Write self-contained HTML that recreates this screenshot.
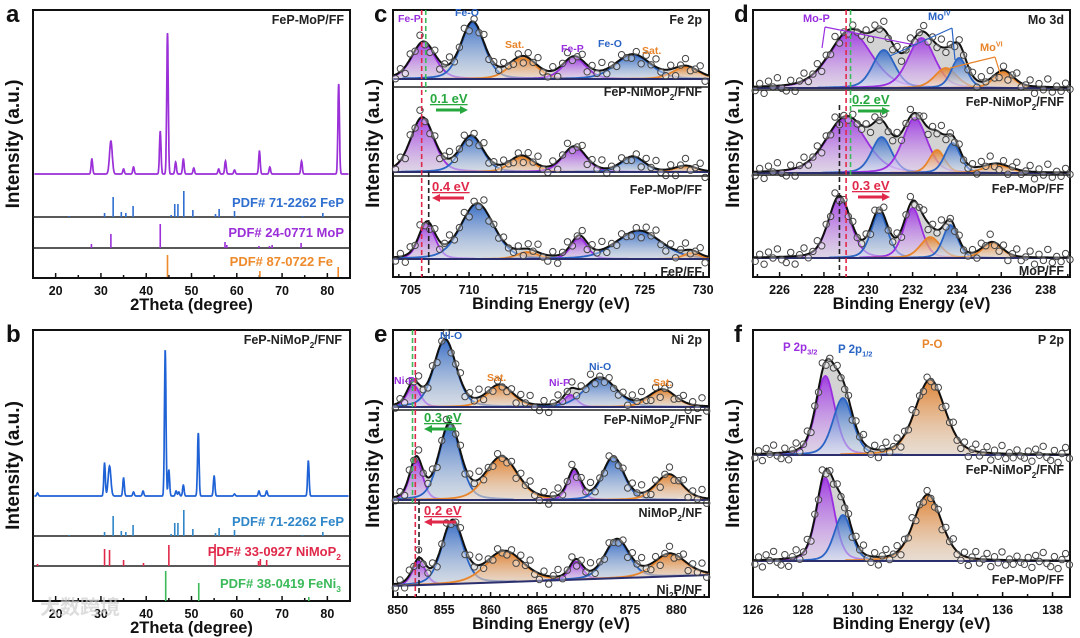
<!DOCTYPE html>
<html><head><meta charset="utf-8"><title>XRD and XPS figure</title>
<style>
html,body{margin:0;padding:0;background:#fff;}
svg{display:block;font-family:"Liberation Sans","Noto Sans CJK SC",sans-serif;font-weight:bold;}
</style></head>
<body>
<svg id="fig" width="1080" height="638" viewBox="0 0 1080 638" xmlns="http://www.w3.org/2000/svg">
<defs>
<linearGradient id="gp" x1="0" y1="0" x2="0" y2="1"><stop offset="0" stop-color="#9a2fe0" stop-opacity="0.9"/><stop offset="1" stop-color="#e9d6f7" stop-opacity="0.5"/></linearGradient>
<linearGradient id="gb" x1="0" y1="0" x2="0" y2="1"><stop offset="0" stop-color="#2a64c4" stop-opacity="0.9"/><stop offset="1" stop-color="#dbe6f5" stop-opacity="0.5"/></linearGradient>
<linearGradient id="go" x1="0" y1="0" x2="0" y2="1"><stop offset="0" stop-color="#e07a22" stop-opacity="0.9"/><stop offset="1" stop-color="#fbe7d4" stop-opacity="0.5"/></linearGradient>
</defs>
<g id="layer"></g>
</svg>
<script>
// ---------- DATA ----------
const aTicks=[20,30,40,50,60,70,80];
const aPeakPos=[28,32.2,35,37.2,43.1,44.7,46.5,48.2,50.5,56,57.5,59.5,65,67.3,74.3,82.5];
const aPeakH=[15,33,5,7,43,141,12,15,6,5,13,4,23,7,13,90];
const aFePPos=[23,30.8,32.7,34.5,35.5,37.1,45.5,46.3,47,48.3,50.3,55.3,56.1,59.5,74.5,79];
const aFePH=[1,4,20,5,4,11,2,13,13,26,7,3,8,6,1,4];
const aMoPPos=[27.9,32.2,43.1,57.4,57.8,64.9,67.2,67.8,74.2];
const aMoPH=[4,14,24,6,3,2,2,3,5];
const aFePos=[44.7,65.1,82.4];
const aFeH=[22,6,10];
const bPeakPos=[16,30.8,31.9,35,37.2,39.3,44.2,45,46.6,47.2,48.2,51.5,55,59.5,64.9,66.6,75.8];
const bPeakH=[3,33,30,18,4,5,146,26,5,4,11,63,20,2,5,5,35];
const bNiMoPPos=[16,30.8,31.9,35,39.4,45,55.2,64.8,65.2,66.6];
const bNiMoPH=[2,17,16,6,3,21,22,5,7,6];
const bFeNiPos=[44.3,51.6,75.9];
const bFeNiH=[30,18,4];

const cTicks=[705,710,715,720,725,730];
const cColors=['p','b','o','p','b','o'];
const cCenters=[[706.1,710.3,714.6,719.0,724.0,728.5],[706.0,710.2,714.5,719.0,724.0,728.5],[706.4,710.7,715.0,719.4,724.5,729.0]];
const cHeights=[[36,56,21,21,24,12],[54,35,15,25,15,6],[35,55,7,21,28,6]];
const cWidths=[[1.0,1.0,1.15,1.0,1.5,1.1],[1.0,1.0,1.0,1.0,1.0,0.9],[0.7,1.4,0.9,0.7,1.9,0.7]];

const dTicks=[226,228,230,232,234,236,238];
const dColors=['p','b','p','o','b','o'];
const dCenters=[[229.2,230.7,232.4,233.5,234.1,236.1],[229.0,230.6,232.1,233.1,233.8,235.8],[228.7,230.5,232.0,232.8,233.7,235.6]];
const dHeights=[[56,38,50,20,30,16],[55,36,55,23,30,8],[61,45,50,21,33,15]];
const dWidths=[[0.95,0.5,0.6,0.5,0.35,0.45],[0.9,0.45,0.55,0.35,0.35,0.6],[0.5,0.38,0.4,0.45,0.33,0.45]];

const eTicks=[850,855,860,865,870,875,880];
const eColors=['p','b','o','p','b','o'];
const eCenters=[[851.7,855.1,861.0,868.6,871.8,878.5],[852.0,855.6,861.2,869.0,873.2,879.2],[852.3,855.9,861.5,869.2,873.6,879.3]];
const eHeights=[[22,67,21,12,29,17],[40,75,42,29,42,25],[24,62,30,18,38,22]];
const eWidths=[[0.7,1.2,1.4,0.7,1.7,1.4],[0.7,1.15,1.7,0.7,1.15,1.4],[0.7,1.15,2.0,0.7,1.3,1.7]];

const fTicks=[126,128,130,132,134,136,138];
const fColors=['p','b','o'];
const fCenters=[[128.9,129.6,133.1],[128.9,129.6,133.0]];
const fHeights=[[79,57,75],[83,46,66]];
const fWidths=[[0.38,0.4,0.6],[0.36,0.35,0.55]];

const jitter=[4,-3,7,-5,1,-8,3,6,-4,8,-1,-7,4,0,-6,7,-3,3,-8,5,-1,4,-4,2];

// ---------- HELPERS ----------
const NS='http://www.w3.org/2000/svg';
const root=document.getElementById('layer');
function el(tag,parent){const e=document.createElementNS(NS,tag);(parent||root).appendChild(e);return e;}
function txt(parent,x,y,s,size,color,anchor){
  const t=el('text',parent);t.setAttribute('x',x);t.setAttribute('y',y);
  t.setAttribute('font-size',size);t.setAttribute('fill',color||'#111');
  if(anchor)t.setAttribute('text-anchor',anchor);t.textContent=s;return t;}
const COL={p:'#9a2fe0',b:'#2a64c4',o:'#e8842a'};
function shape(x,c,h,s){const d=(x-c)/s;return h*(0.7*Math.exp(-0.5*d*d)+0.3/(1+d*d*0.7));}

function axes(g,bx,by,bw,bh,min,max,ticks,minorStep,xtitle){
  const sx=v=>bx+(v-min)/(max-min)*bw;
  const f=el('rect',g);f.setAttribute('x',bx);f.setAttribute('y',by);f.setAttribute('width',bw);f.setAttribute('height',bh);
  f.setAttribute('fill','none');f.setAttribute('stroke','#111');f.setAttribute('stroke-width','2');
  
  
  for(let v=Math.ceil(min/minorStep)*minorStep;v<=max;v+=minorStep){
    const major=ticks.some(t=>Math.abs(t-v)<1e-6);
    const l=el('line',g);l.setAttribute('x1',sx(v));l.setAttribute('x2',sx(v));
    l.setAttribute('y1',by+bh);l.setAttribute('y2',by+bh-(major?5:3));l.setAttribute('stroke','#111');l.setAttribute('stroke-width','1.5');
  }
  ticks.forEach(t=>{const tl=txt(g,sx(t),by+bh+17,String(t),12.5,'#111','middle');
    
    });
  const xt=txt(g,bx+bw/2,by+bh+32,xtitle,16.5,'#111','middle');
  
  
  const yt=txt(g,0,0,'Intensity (a.u.)',19,'#111','middle');
  yt.setAttribute('transform','translate('+(bx-14)+','+(by+bh/2)+') rotate(-90)');
  
  
  return sx;
}

function sticks(g,sx,pos,h,base,color){
  pos.forEach((p,i)=>{const l=el('line',g);l.setAttribute('x1',sx(p));l.setAttribute('x2',sx(p));
    l.setAttribute('y1',base);l.setAttribute('y2',base-h[i]);l.setAttribute('stroke',color);l.setAttribute('stroke-width','1.6');
    
    });
}
function xrd(g,sx,pos,h,base,color,min,max){
  let d='';
  for(let x=min;x<=max;x+=0.04){let y=0;pos.forEach((p,i)=>{const s=(p<33&&p>31)?0.3:0.17;y+=h[i]*Math.exp(-0.5*((x-p)/s)**2);});
    d+=(d?'L':'M')+sx(x).toFixed(1)+','+(base-y).toFixed(1);}
  const pa=el('path',g);pa.setAttribute('d',d);pa.setAttribute('fill','none');pa.setAttribute('stroke',color);pa.setAttribute('stroke-width','1.7');
  
  
}
function hline(g,x1,x2,y,color,w){const l=el('line',g);l.setAttribute('x1',x1);l.setAttribute('x2',x2);l.setAttribute('y1',y);l.setAttribute('y2',y);l.setAttribute('stroke',color||'#222');l.setAttribute('stroke-width',w||1.5);return l;}

function xps(g,sx,min,max,centers,heights,widths,colors,baseL,baseR,step){
  const base=x=>baseL+(baseR-baseL)*(x-min)/(max-min);
  const env=x=>{let s=0;centers.forEach((c,i)=>s+=shape(x,c,heights[i],widths[i]));return s;};
  let d='M'+sx(min)+','+base(min);
  for(let x=min;x<=max+1e-6;x+=0.05){d+='L'+sx(x).toFixed(1)+','+(base(x)-env(x)).toFixed(1);}
  d+='L'+sx(max)+','+base(max)+'Z';
  const gf=el('path',g);gf.setAttribute('d',d);gf.setAttribute('fill','#c4c4c4');gf.setAttribute('opacity','0.75');
  
  
  centers.forEach((c,i)=>{
    const a=Math.max(min,c-6*widths[i]),b=Math.min(max,c+6*widths[i]);
    let p='M'+sx(a).toFixed(1)+','+base(a).toFixed(1),q='';
    for(let x=a;x<=b+1e-6;x+=0.03){const y=(base(x)-shape(x,c,heights[i],widths[i])).toFixed(1);p+='L'+sx(x).toFixed(1)+','+y;q+=(q?'L':'M')+sx(x).toFixed(1)+','+y;}
    p+='L'+sx(b).toFixed(1)+','+base(b).toFixed(1)+'Z';
    const fp=el('path',g);fp.setAttribute('d',p);fp.setAttribute('fill','url(#g'+colors[i]+')');
    
    
    const lp=el('path',g);lp.setAttribute('d',q);lp.setAttribute('fill','none');lp.setAttribute('stroke',COL[colors[i]]);lp.setAttribute('stroke-width','1.8');
    
    
  });
  const bl=el('line',g);bl.setAttribute('x1',sx(min));bl.setAttribute('x2',sx(max));bl.setAttribute('y1',baseL);bl.setAttribute('y2',baseR);
  bl.setAttribute('stroke','#2b2f6e');bl.setAttribute('stroke-width','2');
  
  
  let e='';
  for(let x=min;x<=max+1e-6;x+=0.05){e+=(e?'L':'M')+sx(x).toFixed(1)+','+(base(x)-env(x)).toFixed(1);}
  const ep=el('path',g);ep.setAttribute('d',e);ep.setAttribute('fill','none');ep.setAttribute('stroke','#111');ep.setAttribute('stroke-width','2');
  
  
  let k=0;
  for(let x=min+step/2;x<max;x+=step){
    const c=el('circle',g);c.setAttribute('cx',sx(x).toFixed(1));
    c.setAttribute('cy',(base(x)-env(x)+jitter[k%jitter.length]).toFixed(1));
    c.setAttribute('r','3.2');c.setAttribute('fill','#fff');c.setAttribute('fill-opacity','0.35');c.setAttribute('stroke','#444');c.setAttribute('stroke-width','1');
    
    
    k++;}
}
function vdash(g,x,y1,y2,color){const l=el('line',g);l.setAttribute('x1',x);l.setAttribute('x2',x);l.setAttribute('y1',y1);l.setAttribute('y2',y2);
  l.setAttribute('stroke',color);l.setAttribute('stroke-width','1.6');l.setAttribute('stroke-dasharray','5,3');
  
  }
function arrow(g,x,y,dir,color,label){
  const t=txt(g,x,y,label,13,color);t.setAttribute('text-decoration','underline');
  
  
  const ax=x+6,ay=y+7,len=26;
  const l=el('line',g);l.setAttribute('x1',ax);l.setAttribute('x2',ax+len);l.setAttribute('y1',ay);l.setAttribute('y2',ay);l.setAttribute('stroke',color);l.setAttribute('stroke-width','3');
  const h=el('polygon',g);
  if(dir>0)h.setAttribute('points',(ax+len+6)+','+ay+' '+(ax+len-2)+','+(ay-4)+' '+(ax+len-2)+','+(ay+4));
  else h.setAttribute('points',(ax-6)+','+ay+' '+(ax+2)+','+(ay-4)+' '+(ax+2)+','+(ay+4));
  h.setAttribute('fill',color);
  
  
}
function panelLetter(x,y,s){const t=txt(root,x,y,s,24,'#111');
  }
function lab(g,x,y,s,size,color,anchor,name){const t=txt(g,x,y,s,size,color,anchor);
  return t;}
function labSub(g,x,y,main,sub,after,size,color,anchor,name,sup){
  const t=txt(g,x,y,'',size,color,anchor);
  
  const a=el('tspan',t);a.textContent=main;
  const b=el('tspan',t);b.textContent=sub;b.setAttribute('font-size',size*0.65);b.setAttribute('dy',sup?-size*0.4:size*0.3);
  if(after){const c=el('tspan',t);c.textContent=after;c.setAttribute('dy',sup?size*0.4:-size*0.3);}
  return t;}

// ---------- PANEL A ----------
(function(){
  const g=el('g');
  panelLetter(6,22,'a');
  const sx=axes(g,33,10,317,268,15,85,aTicks,5,'2Theta (degree)');
  xrd(g,sx,aPeakPos,aPeakH,174,'#9b2fd8',15.3,84.7);
  hline(g,33,350,217);hline(g,33,350,248);
  sticks(g,sx,aFePPos,aFePH,217,'#2f6fd0');
  sticks(g,sx,aMoPPos,aMoPH,248,'#9b2fd8');
  sticks(g,sx,aFePos,aFeH,277,'#ee8a2a');
  lab(g,344,24,'FeP-MoP/FF',12.5,'#222','end','sample-label');
  lab(g,344,207,'PDF# 71-2262 FeP',13,'#2f6fd0','end','reference-label-fep');
  lab(g,344,237,'PDF# 24-0771 MoP',13,'#9b2fd8','end','reference-label-mop');
  lab(g,333,266,'PDF# 87-0722 Fe',13,'#ee8a2a','end','reference-label-fe');
})();
// ---------- PANEL B ----------
(function(){
  const g=el('g');
  panelLetter(6,342,'b');
  const sx=axes(g,33,330,317,271,15,85,aTicks,5,'2Theta (degree)');
  xrd(g,sx,bPeakPos,bPeakH,496,'#1f62d6',15.3,84.7);
  hline(g,33,350,536);hline(g,33,350,566);
  sticks(g,sx,aFePPos,aFePH,536,'#2f86c8');
  sticks(g,sx,bNiMoPPos,bNiMoPH,566,'#e0294a');
  sticks(g,sx,bFeNiPos,bFeNiH,601,'#3cba5a');
  labSub(g,342,344,'FeP-NiMoP','2','/FNF',12.5,'#222','end','sample-label');
  lab(g,344,526,'PDF# 71-2262 FeP',13,'#2f86c8','end','reference-label-fep');
  labSub(g,341,556,'PDF# 33-0927 NiMoP','2','',13,'#e0294a','end','reference-label-nimop2');
  labSub(g,341,588,'PDF# 38-0419 FeNi','3','',13,'#3cba5a','end','reference-label-feni3');
  const w=lab(root,40,614,'大数跨境',20,'#cfcfcf','start','watermark');w.setAttribute('opacity','0.7');
})();
// ---------- PANEL C ----------
(function(){
  const g=el('g');
  panelLetter(374,22,'c');
  const min=703.5,max=730.5;
  const sx=axes(g,393,10,316,267,min,max,cTicks,1,'Binding Energy (eV)');
  const bases=[[79,79],[172,172],[259,259]];
  for(let i=0;i<3;i++)xps(g,sx,min,max,cCenters[i],cHeights[i],cWidths[i],cColors,bases[i][0],bases[i][1],0.42);
  hline(g,393,709,87);hline(g,393,709,176);
  vdash(g,sx(705.95),10,277,'#e0294a');vdash(g,sx(706.3),10,92,'#3cba5a');vdash(g,sx(706.55),172,277,'#222');
  lab(g,702,24,'Fe 2p',12.5,'#222','end','spectrum-title');
  labSub(g,702,96,'FeP-NiMoP','2','/FNF',12.5,'#222','end','sample-label');
  lab(g,702,194,'FeP-MoP/FF',12.5,'#222','end','sample-label');
  lab(g,702,276,'FeP/FF',12.5,'#222','end','sample-label');
  arrow(g,430,103,1,'#27a83f','0.1 eV');
  arrow(g,432,191,-1,'#e0294a','0.4 eV');
  [['Fe-P',398,22,'#9a2fe0'],['Fe-O',455,16,'#2a64c4'],['Sat.',505,48,'#e8842a'],['Fe-P',561,52,'#9a2fe0'],['Fe-O',598,47,'#2a64c4'],['Sat.',642,54,'#e8842a']].forEach(a=>lab(g,a[1],a[2],a[0],10.5,a[3],'start','peak-label'));
})();
// ---------- PANEL D ----------
(function(){
  const g=el('g');
  panelLetter(734,22,'d');
  const min=224.8,max=239.1;
  const sx=axes(g,753,10,317,267,min,max,dTicks,1,'Binding Energy (eV)');
  const bases=[[88,88],[173,173],[258,258]];
  for(let i=0;i<3;i++)xps(g,sx,min,max,dCenters[i],dHeights[i],dWidths[i],dColors,bases[i][0],bases[i][1],0.2);
  hline(g,753,1070,90);hline(g,753,1070,175);
  vdash(g,sx(228.7),105,277,'#222');vdash(g,sx(229.0),10,277,'#e0294a');vdash(g,sx(229.2),10,178,'#3cba5a');
  lab(g,1064,24,'Mo 3d',12.5,'#222','end','spectrum-title');
  labSub(g,1064,106,'FeP-NiMoP','2','/FNF',12.5,'#222','end','sample-label');
  lab(g,1064,193,'FeP-MoP/FF',12.5,'#222','end','sample-label');
  lab(g,1064,275,'MoP/FF',12.5,'#222','end','sample-label');
  arrow(g,852,104,1,'#27a83f','0.2 eV');
  arrow(g,852,190,1,'#e0294a','0.3 eV');
  lab(g,803,22,'Mo-P',11,'#9a2fe0','start','peak-label');
  labSub(g,928,20,'Mo','IV','',11,'#2a64c4','start','peak-label',true);
  labSub(g,980,51,'Mo','VI','',11,'#e8842a','start','peak-label',true);
  [[825,27,822,48,'#9a2fe0'],[825,27,915,45,'#9a2fe0'],[952,28,890,56,'#2a64c4'],[952,28,955,60,'#2a64c4'],[995,57,950,68,'#e8842a'],[995,57,1000,73,'#e8842a']].forEach(s=>{
    const l=el('line',g);l.setAttribute('x1',s[0]);l.setAttribute('y1',s[1]);l.setAttribute('x2',s[2]);l.setAttribute('y2',s[3]);
    l.setAttribute('stroke',s[4]);l.setAttribute('stroke-width','1.2');
    
    });
})();
// ---------- PANEL E ----------
(function(){
  const g=el('g');
  panelLetter(374,342,'e');
  const min=849.5,max=883.5;
  const sx=axes(g,393,330,316,267,min,max,eTicks,1,'Binding Energy (eV)');
  const bases=[[407,407],[500,500],[586,575]];
  for(let i=0;i<3;i++)xps(g,sx,min,max,eCenters[i],eHeights[i],eWidths[i],eColors,bases[i][0],bases[i][1],0.5);
  hline(g,393,709,410);hline(g,393,709,503);
  vdash(g,sx(851.6),330,505,'#3cba5a');vdash(g,sx(851.9),330,597,'#e0294a');vdash(g,sx(852.3),500,597,'#222');
  lab(g,702,344,'Ni 2p',12.5,'#222','end','spectrum-title');
  labSub(g,702,424,'FeP-NiMoP','2','/FNF',12.5,'#222','end','sample-label');
  labSub(g,702,517,'NiMoP','2','/NF',12.5,'#222','end','sample-label');
  labSub(g,702,594,'Ni','2','P/NF',12.5,'#222','end','sample-label');
  arrow(g,424,422,-1,'#27a83f','0.3 eV');
  arrow(g,424,515,-1,'#e0294a','0.2 eV');
  [['Ni-P',394,384,'#9a2fe0'],['Ni-O',440,339,'#2a64c4'],['Sat.',487,381,'#e8842a'],['Ni-P',549,386,'#9a2fe0'],['Ni-O',589,370,'#2a64c4'],['Sat.',653,386,'#e8842a']].forEach(a=>lab(g,a[1],a[2],a[0],10.5,a[3],'start','peak-label'));
})();
// ---------- PANEL F ----------
(function(){
  const g=el('g');
  panelLetter(734,342,'f');
  const min=126,max=138.7;
  const sx=axes(g,753,330,317,267,min,max,fTicks,1,'Binding Energy (eV)');
  const bases=[[455,455],[561,561]];
  for(let i=0;i<2;i++)xps(g,sx,min,max,fCenters[i],fHeights[i],fWidths[i],fColors,bases[i][0],bases[i][1],0.15);
  lab(g,1064,344,'P 2p',12.5,'#222','end','spectrum-title');
  labSub(g,1064,474,'FeP-NiMoP','2','/FNF',12.5,'#222','end','sample-label');
  lab(g,1064,584,'FeP-MoP/FF',12.5,'#222','end','sample-label');
  labSub(g,783,351,'P 2p','3/2','',11.5,'#9a2fe0','start','peak-label');
  labSub(g,838,353,'P 2p','1/2','',11.5,'#2a64c4','start','peak-label');
  lab(g,922,348,'P-O',11.5,'#e8842a','start','peak-label');
})();
</script>
</body></html>
